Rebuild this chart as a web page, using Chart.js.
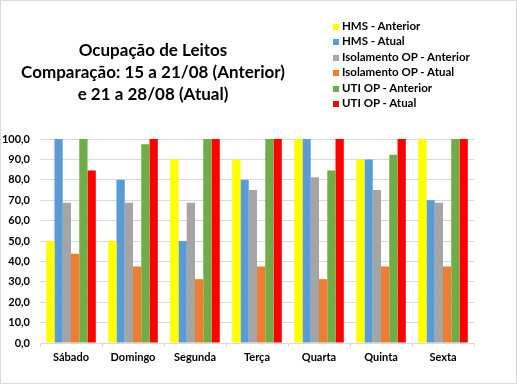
<!DOCTYPE html>
<html>
<head>
<meta charset="utf-8">
<script src="https://cdn.jsdelivr.net/npm/chart.js@4"></script>
<style>
  html, body { margin: 0; padding: 0; background: #fff; }
  #wrap { position: relative; width: 515px; height: 382px; border: 1px solid #D9D9D9; background: #fff; }
  #chart { position: absolute; left: 0; top: 0; }
  #title { position: absolute; left: 2px; top: 38px; width: 300px; text-align: center;
           font-family: Lato, "Liberation Sans", sans-serif; font-weight: bold; font-size: 17px; line-height: 22px; color: #000; }
  #legend { position: absolute; left: 332px; top: 17px; font-family: Lato, "Liberation Sans", sans-serif;
            font-weight: bold; font-size: 11.5px; color: #000; }
  .li { height: 15.4px; line-height: 15.4px; white-space: nowrap; }
  .sw { display: inline-block; width: 6px; height: 6px; margin-right: 3px; vertical-align: 0px; }
</style>
</head>
<body>
<div id="wrap">
  <canvas id="chart" width="515" height="382"></canvas>
  <div id="title">Ocupação de Leitos<br>Comparação: 15 a 21/08 (Anterior)<br>e 21 a 28/08 (Atual)</div>
  <div id="legend"></div>
</div>
<script>
const categories = ["Sábado", "Domingo", "Segunda", "Terça", "Quarta", "Quinta", "Sexta"];
const seriesNames = ["HMS - Anterior", "HMS - Atual", "Isolamento OP - Anterior", "Isolamento OP - Atual", "UTI OP - Anterior", "UTI OP - Atual"];
const hmsAnterior = [50, 50, 90, 90, 100, 90, 100];
const hmsAtual = [100, 80, 50, 80, 100, 90, 70];
const isoAnterior = [68.8, 68.8, 68.8, 75, 81.3, 75, 68.8];
const isoAtual = [43.8, 37.5, 31.3, 37.5, 31.3, 37.5, 37.5];
const utiAnterior = [100, 97.4, 100, 100, 84.6, 92.3, 100];
const utiAtual = [84.6, 100, 100, 100, 100, 100, 100];
const seriesColors = ["#FFFF00", "#5B9BD5", "#A5A5A5", "#ED7D31", "#70AD47", "#FF0000"];
const yTicks = [0, 10, 20, 30, 40, 50, 60, 70, 80, 90, 100];

const allValues = [hmsAnterior, hmsAtual, isoAnterior, isoAtual, utiAnterior, utiAtual];
const datasets = allValues.map((vals, i) => ({
  label: seriesNames[i],
  data: vals,
  backgroundColor: seriesColors[i],
  borderWidth: 0,
  categoryPercentage: 0.8,
  barPercentage: 1.0
}));

const legend = document.getElementById('legend');
seriesNames.forEach((n, i) => {
  const d = document.createElement('div');
  d.className = 'li';
  d.innerHTML = '<span class="sw" style="background:' + seriesColors[i] + '"></span>' + n;
  legend.appendChild(d);
});

const font = { family: "Lato, 'Liberation Sans', sans-serif", size: 11, weight: 'bold' };
new Chart(document.getElementById('chart'), {
  type: 'bar',
  data: { labels: categories, datasets: datasets },
  options: {
    responsive: false,
    animation: false,
    layout: { padding: { top: 138, right: 42, bottom: 0, left: 0 } },
    plugins: { legend: { display: false }, title: { display: false }, tooltip: { enabled: false } },
    scales: {
      x: {
        afterFit: (axis) => { axis.height = 40; },
        grid: { display: true, drawOnChartArea: false, color: '#D9D9D9', tickLength: 4, offset: true },
        border: { color: '#D9D9D9' },
        ticks: { color: '#000', font: font, padding: 4 }
      },
      y: {
        min: 0, max: 100,
        afterFit: (axis) => { axis.width = 39; },
        afterBuildTicks: (axis) => { axis.ticks = yTicks.map(v => ({ value: v })); },
        grid: { color: '#D9D9D9', drawTicks: false },
        border: { display: false },
        ticks: { color: '#000', font: font, padding: 10,
                 callback: (v) => v.toFixed(1).replace('.', ',') }
      }
    }
  }
});
</script>
</body>
</html>
